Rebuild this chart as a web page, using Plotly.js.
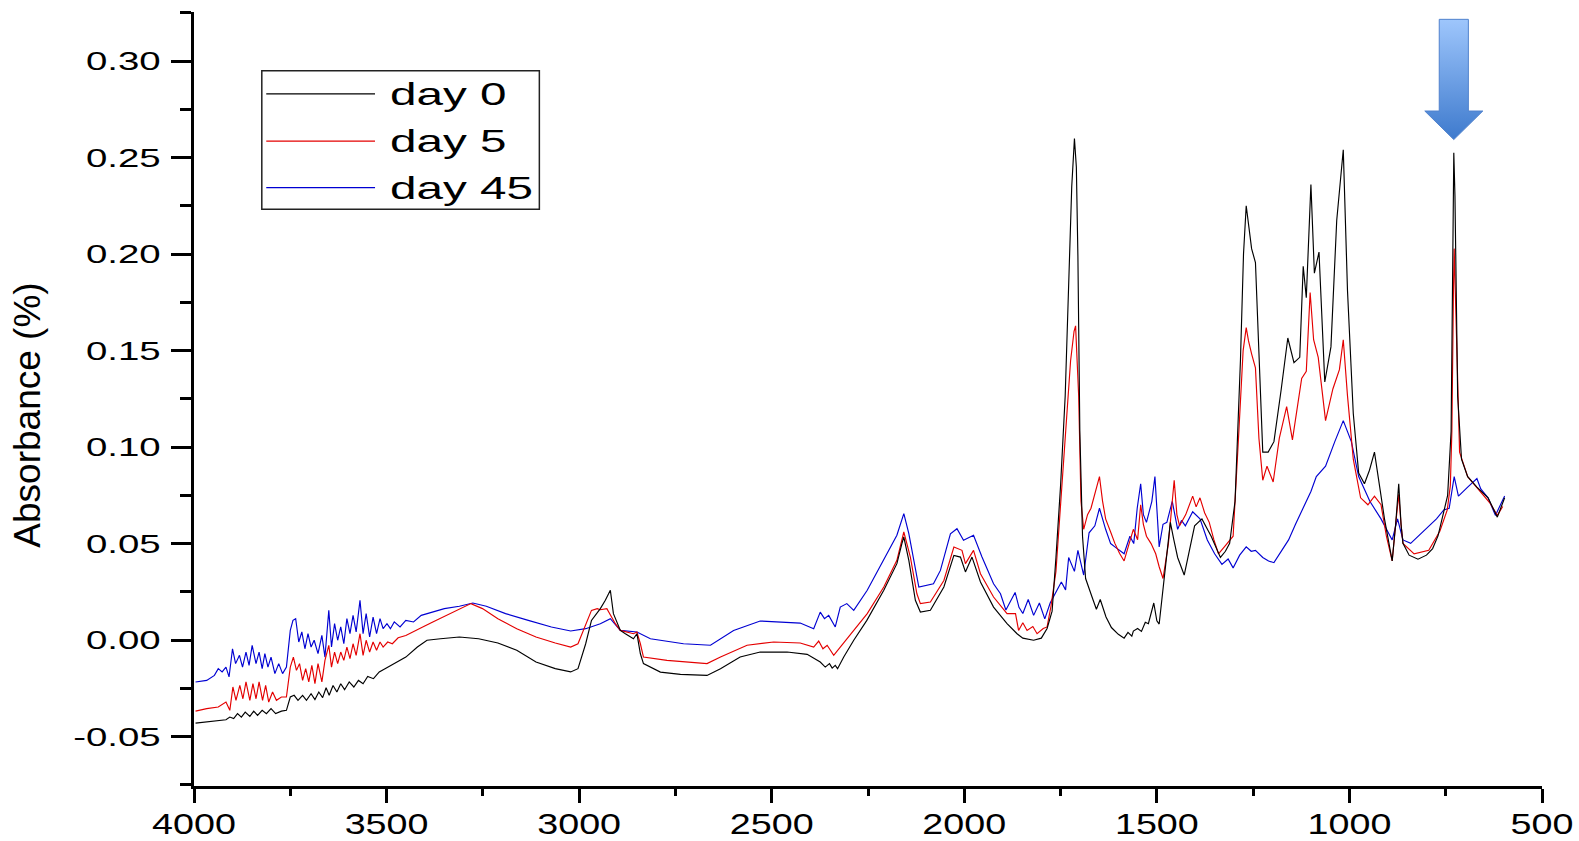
<!DOCTYPE html>
<html>
<head>
<meta charset="utf-8">
<script src="https://cdn.plot.ly/plotly-3.0.1.min.js"></script>
<style>
  html, body { margin: 0; padding: 0; background: #ffffff; }
  #chart { width: 1579px; height: 841px; }
</style>
</head>
<body>
<div id="chart"></div>
<script>
// ---------------- DATA ----------------
var seriesNames = ["day 0", "day 5", "day 45"];

var wnDay0 = [3996,3967,3947,3917,3907,3897,3887,3877,3867,3855,3845,3835,3823,3812,3800,3788,3773,3760,3750,3740,3730,3718,3708,3696,3686,3676,3666,3657,3649,3639,3629,3619,3609,3597,3585,3573,3561,3549,3534,3519,3504,3480,3450,3420,3395,3360,3311,3261,3211,3162,3112,3062,3022,3003,2983,2968,2945,2932,2919,2911,2893,2880,2859,2850,2841,2833,2789,2737,2668,2633,2582,2530,2460,2408,2374,2361,2350,2343,2335,2329,2313,2287,2253,2209,2175,2162,2157,2144,2127,2114,2088,2053,2027,2010,1997,1980,1958,1924,1889,1863,1848,1820,1800,1785,1772,1762,1750,1738,1729,1721,1714,1709,1705,1700,1693,1685,1666,1657,1647,1632,1618,1600,1585,1575,1565,1561,1550,1540,1530,1522,1508,1500,1494,1479,1465,1456,1446,1429,1417,1402,1383,1370,1359,1335,1322,1311,1297,1283,1275,1268,1261,1254,1244,1235,1225,1211,1196,1177,1160,1144,1129,1120,1112,1100,1091,1079,1064,1048,1033,1016,1005,990,976,961,948,935,922,909,889,880,872,866,861,845,822,800,784,770,755,745,736,731,729,726,722,719,709,693,669,640,616,597];
var absDay0 = [-0.0430,-0.0425,-0.0420,-0.0413,-0.0399,-0.0407,-0.0381,-0.0399,-0.0373,-0.0395,-0.0368,-0.0390,-0.0364,-0.0381,-0.0355,-0.0381,-0.0368,-0.0364,-0.0295,-0.0286,-0.0312,-0.0286,-0.0312,-0.0278,-0.0308,-0.0269,-0.0298,-0.0247,-0.0286,-0.0235,-0.0269,-0.0226,-0.0257,-0.0217,-0.0243,-0.0209,-0.0226,-0.0188,-0.0200,-0.0165,-0.0148,-0.0122,-0.0088,-0.0036,-0.0001,0.0007,0.0016,0.0007,-0.0015,-0.0053,-0.0114,-0.0148,-0.0165,-0.0148,-0.0019,0.0102,0.0163,0.0206,0.0258,0.0137,0.0050,0.0033,0.0007,0.0033,-0.0071,-0.0122,-0.0166,-0.0178,-0.0183,-0.0148,-0.0088,-0.0062,-0.0062,-0.0074,-0.0114,-0.0140,-0.0122,-0.0145,-0.0131,-0.0148,-0.0088,-0.0001,0.0102,0.0258,0.0396,0.0500,0.0534,0.0413,0.0206,0.0145,0.0154,0.0275,0.0439,0.0430,0.0353,0.0430,0.0301,0.0171,0.0085,0.0033,0.0010,-0.0001,0.0010,0.0060,0.0150,0.0428,0.0800,0.1265,0.1846,0.2350,0.2598,0.2450,0.1990,0.1083,0.0538,0.0319,0.0210,0.0160,0.0210,0.0120,0.0065,0.0030,0.0010,0.0040,0.0020,0.0047,0.0060,0.0045,0.0092,0.0085,0.0192,0.0100,0.0083,0.0356,0.0610,0.0520,0.0428,0.0337,0.0447,0.0592,0.0628,0.0580,0.0538,0.0428,0.0460,0.0501,0.0719,0.1447,0.2000,0.2250,0.2150,0.2028,0.1956,0.1447,0.0974,0.0974,0.1028,0.1301,0.1565,0.1437,0.1465,0.1937,0.1774,0.2360,0.1901,0.2010,0.1337,0.1519,0.2174,0.2540,0.1810,0.1174,0.0865,0.0810,0.0880,0.0974,0.0800,0.0628,0.0410,0.0600,0.0810,0.0600,0.0501,0.0440,0.0419,0.0440,0.0474,0.0540,0.0665,0.0750,0.1083,0.2000,0.2525,0.2300,0.1600,0.1265,0.0937,0.0847,0.0792,0.0737,0.0637,0.0737];

var wnDay5 = [3996,3967,3937,3917,3907,3899,3891,3881,3873,3865,3855,3847,3839,3831,3822,3814,3806,3796,3786,3773,3760,3750,3742,3734,3726,3718,3710,3702,3694,3686,3678,3668,3660,3650,3643,3635,3627,3619,3611,3603,3595,3587,3579,3569,3561,3553,3544,3535,3526,3517,3509,3497,3485,3470,3450,3430,3410,3380,3350,3311,3281,3251,3211,3162,3112,3062,3022,3003,2983,2968,2953,2945,2928,2906,2893,2859,2850,2841,2833,2772,2668,2633,2564,2495,2426,2391,2378,2367,2356,2339,2322,2287,2252,2209,2175,2157,2140,2123,2114,2088,2053,2027,2006,1997,1976,1958,1924,1889,1867,1859,1848,1837,1822,1811,1795,1785,1775,1762,1750,1738,1724,1715,1711,1703,1697,1690,1680,1671,1660,1649,1641,1633,1620,1609,1597,1585,1572,1561,1550,1542,1535,1527,1515,1503,1494,1484,1470,1455,1448,1441,1425,1407,1398,1388,1376,1364,1352,1340,1321,1302,1287,1276,1268,1262,1254,1244,1235,1225,1214,1198,1182,1163,1148,1136,1124,1112,1102,1093,1081,1062,1043,1026,1016,1005,990,971,952,935,918,904,889,880,872,866,861,832,794,765,746,738,734,730,728,725,721,714,693,659,635,616,602];
var absDay5 = [-0.0368,-0.0355,-0.0347,-0.0321,-0.0364,-0.0243,-0.0312,-0.0235,-0.0304,-0.0217,-0.0312,-0.0226,-0.0304,-0.0217,-0.0312,-0.0235,-0.0321,-0.0269,-0.0312,-0.0295,-0.0295,-0.0140,-0.0088,-0.0157,-0.0122,-0.0209,-0.0148,-0.0217,-0.0131,-0.0226,-0.0122,-0.0217,-0.0105,-0.0027,-0.0140,-0.0062,-0.0122,-0.0062,-0.0105,-0.0036,-0.0096,-0.0019,-0.0079,0.0033,-0.0079,-0.0001,-0.0062,-0.0010,-0.0053,-0.0010,-0.0036,-0.0010,-0.0019,0.0012,0.0024,0.0042,0.0064,0.0094,0.0123,0.0163,0.0189,0.0163,0.0111,0.0059,0.0016,-0.0015,-0.0036,-0.0019,0.0085,0.0154,0.0163,0.0157,0.0163,0.0085,0.0050,0.0033,0.0042,-0.0019,-0.0088,-0.0105,-0.0122,-0.0088,-0.0027,-0.0010,-0.0015,-0.0036,-0.0005,-0.0045,-0.0027,-0.0079,-0.0036,0.0050,0.0137,0.0275,0.0413,0.0560,0.0430,0.0240,0.0189,0.0197,0.0309,0.0482,0.0465,0.0396,0.0465,0.0344,0.0223,0.0137,0.0137,0.0050,0.0090,0.0050,0.0070,0.0033,0.0060,0.0068,0.0174,0.0356,0.0700,0.1083,0.1447,0.1600,0.1628,0.1265,0.0719,0.0574,0.0650,0.0683,0.0760,0.0847,0.0720,0.0628,0.0560,0.0501,0.0450,0.0410,0.0500,0.0574,0.0520,0.0701,0.0600,0.0538,0.0500,0.0447,0.0380,0.0319,0.0500,0.0828,0.0650,0.0592,0.0650,0.0746,0.0690,0.0737,0.0660,0.0610,0.0520,0.0447,0.0492,0.0538,0.1083,0.1500,0.1619,0.1550,0.1483,0.1410,0.1046,0.0828,0.0901,0.0819,0.1046,0.1210,0.1037,0.1200,0.1356,0.1392,0.1801,0.1556,0.1465,0.1137,0.1301,0.1401,0.1556,0.1265,0.0937,0.0737,0.0701,0.0746,0.0701,0.0538,0.0410,0.0600,0.0755,0.0600,0.0501,0.0447,0.0465,0.0565,0.0674,0.0800,0.1083,0.1800,0.2028,0.1800,0.1447,0.0974,0.0847,0.0765,0.0710,0.0646,0.0692];

var wnDay45 = [3996,3967,3947,3937,3927,3917,3909,3900,3892,3882,3874,3865,3857,3849,3839,3831,3823,3816,3808,3800,3790,3780,3770,3760,3750,3743,3736,3728,3720,3712,3704,3696,3688,3678,3668,3660,3650,3643,3635,3627,3619,3611,3603,3595,3587,3579,3569,3561,3553,3544,3535,3526,3517,3509,3499,3490,3480,3465,3450,3430,3410,3380,3350,3311,3276,3241,3191,3132,3072,3022,2983,2945,2919,2893,2850,2815,2729,2659,2599,2530,2460,2426,2391,2374,2363,2352,2335,2322,2305,2287,2252,2209,2175,2157,2144,2118,2080,2062,2036,2019,2002,1976,1954,1924,1906,1892,1880,1868,1858,1848,1834,1820,1805,1791,1777,1762,1748,1737,1729,1714,1705,1690,1676,1661,1649,1633,1620,1609,1585,1570,1560,1551,1542,1535,1527,1513,1505,1494,1484,1474,1460,1446,1436,1426,1407,1388,1369,1350,1331,1315,1302,1285,1268,1255,1244,1225,1210,1196,1178,1158,1140,1120,1100,1086,1062,1038,1016,1005,995,976,947,918,889,875,861,841,803,774,755,741,728,717,693,669,659,640,621,597];
var absDay45 = [-0.0217,-0.0209,-0.0183,-0.0148,-0.0165,-0.0140,-0.0191,-0.0045,-0.0122,-0.0079,-0.0140,-0.0062,-0.0131,-0.0027,-0.0122,-0.0062,-0.0148,-0.0070,-0.0140,-0.0088,-0.0174,-0.0122,-0.0174,-0.0140,0.0050,0.0102,0.0111,-0.0010,0.0042,-0.0045,0.0033,-0.0036,-0.0001,-0.0070,0.0024,-0.0088,0.0154,-0.0036,0.0085,-0.0001,0.0068,-0.0019,0.0111,0.0033,0.0128,0.0042,0.0206,0.0033,0.0137,0.0016,0.0119,0.0033,0.0111,0.0059,0.0085,0.0059,0.0094,0.0068,0.0102,0.0094,0.0128,0.0145,0.0163,0.0175,0.0192,0.0175,0.0137,0.0102,0.0068,0.0047,0.0059,0.0085,0.0111,0.0050,0.0042,0.0007,-0.0019,-0.0027,0.0050,0.0099,0.0094,0.0088,0.0059,0.0145,0.0111,0.0128,0.0068,0.0171,0.0189,0.0154,0.0258,0.0413,0.0543,0.0655,0.0551,0.0275,0.0292,0.0361,0.0551,0.0577,0.0517,0.0543,0.0430,0.0292,0.0240,0.0156,0.0200,0.0247,0.0170,0.0138,0.0210,0.0128,0.0192,0.0110,0.0192,0.0246,0.0301,0.0260,0.0428,0.0356,0.0465,0.0337,0.0556,0.0592,0.0683,0.0574,0.0500,0.0483,0.0447,0.0538,0.0500,0.0683,0.0810,0.0650,0.0610,0.0719,0.0847,0.0483,0.0600,0.0610,0.0719,0.0574,0.0620,0.0592,0.0665,0.0628,0.0519,0.0447,0.0392,0.0420,0.0374,0.0440,0.0483,0.0460,0.0465,0.0428,0.0410,0.0401,0.0460,0.0519,0.0600,0.0683,0.0770,0.0847,0.0901,0.1028,0.1137,0.1080,0.1028,0.0847,0.0719,0.0628,0.0519,0.0628,0.0519,0.0501,0.0574,0.0628,0.0674,0.0683,0.0847,0.0746,0.0792,0.0837,0.0783,0.0737,0.0646,0.0746];

var xTickVals = [4000, 3500, 3000, 2500, 2000, 1500, 1000, 500];
var xTickText = ["4000", "3500", "3000", "2500", "2000", "1500", "1000", "500"];
var xMinorVals = [3750, 3250, 2750, 2250, 1750, 1250, 750];
var yTickVals = [-0.05, 0.00, 0.05, 0.10, 0.15, 0.20, 0.25, 0.30];
var yTickText = ["-0.05", "0.00", "0.05", "0.10", "0.15", "0.20", "0.25", "0.30"];
var yMinorVals = [-0.075, -0.025, 0.025, 0.075, 0.125, 0.175, 0.225, 0.275, 0.325];
var yTitle = "Absorbance (%)";

// ---------------- STYLE ----------------
var colors = ["#000000", "rgb(228,0,0)", "rgb(0,0,210)"];
var FONT = "Liberation Sans, Arial, Helvetica, sans-serif";

var traces = [
  {x: wnDay0, y: absDay0, name: seriesNames[0]},
  {x: wnDay5, y: absDay5, name: seriesNames[1]},
  {x: wnDay45, y: absDay45, name: seriesNames[2]}
].map(function (t, i) {
  t.type = "scatter"; t.mode = "lines"; t.showlegend = false;
  t.line = {color: colors[i], width: 1.15};
  return t;
});
traces = [traces[2], traces[1], traces[0]];

// Arrow pointing to the day-0 peak near 730 cm-1 (located from the data)
var peakX = 0, peakY = -1;
for (var i = 0; i < wnDay0.length; i++) {
  if (wnDay0[i] > 700 && wnDay0[i] < 760 && absDay0[i] > peakY) { peakY = absDay0[i]; peakX = wnDay0[i]; }
}
var shaftHalf = 37.8, headHalf = 75.3;
var arrowTop = 0.3216, headBase = 0.2741, tipGap = 0.0068;
var arrowPath = "M" + (peakX + shaftHalf) + "," + arrowTop +
  " L" + (peakX - shaftHalf) + "," + arrowTop +
  " L" + (peakX - shaftHalf) + "," + headBase +
  " L" + (peakX - headHalf) + "," + headBase +
  " L" + peakX + "," + (peakY + tipGap) +
  " L" + (peakX + headHalf) + "," + headBase +
  " L" + (peakX + shaftHalf) + "," + headBase + " Z";

// Manual legend (box + line samples + labels) in paper coordinates
var legBox = {x0: 0.0503, x1: 0.2562, y0: 0.7451, y1: 0.9242};
var legRowsY = [0.8941, 0.8333, 0.7730];
var legLineX = [0.0536, 0.1343];
var legTextX = 0.1440;

var shapes = [
  {type: "rect", xref: "paper", yref: "paper", x0: legBox.x0, x1: legBox.x1, y0: legBox.y0, y1: legBox.y1,
   line: {color: "#222222", width: 1.5}, fillcolor: "rgba(255,255,255,0)", layer: "above"}
];
var annotations = [];
for (var k = 0; k < 3; k++) {
  shapes.push({type: "line", xref: "paper", yref: "paper", x0: legLineX[0], x1: legLineX[1],
    y0: legRowsY[k], y1: legRowsY[k], line: {color: colors[k], width: 1.2}, layer: "above"});
  annotations.push({xref: "paper", yref: "paper", x: legTextX, y: legRowsY[k], xanchor: "left", yanchor: "middle",
    align: "left", showarrow: false, text: seriesNames[k], font: {family: FONT, size: 32, color: "#000"}});
}
var arrowIndex = shapes.length;
shapes.push({type: "path", xref: "x", yref: "y", path: arrowPath, layer: "above",
  fillcolor: "rgb(110,160,230)", line: {color: "rgb(80,130,205)", width: 1}});

var layout = {
  width: 1579, height: 841,
  paper_bgcolor: "#ffffff", plot_bgcolor: "#ffffff",
  margin: {l: 194, r: 37, t: 12, b: 55, pad: 0},
  showlegend: false,
  font: {family: FONT, color: "#000"},
  xaxis: {
    range: [4000, 500], autorange: false,
    tickmode: "array", tickvals: xTickVals, ticktext: xTickText,
    ticks: "outside", ticklen: 14, tickwidth: 3, tickcolor: "#000",
    minor: {tickmode: "array", tickvals: xMinorVals, ticks: "outside", ticklen: 7, tickwidth: 3, tickcolor: "#000", showgrid: false},
    showline: true, linecolor: "#000", linewidth: 3, mirror: false,
    showgrid: false, zeroline: false,
    tickfont: {family: FONT, size: 29, color: "#000"}
  },
  yaxis: {
    range: [-0.0756, 0.3254], autorange: false,
    tickmode: "array", tickvals: yTickVals, ticktext: yTickText,
    ticks: "outside", ticklen: 20, tickwidth: 3, tickcolor: "#000",
    minor: {tickmode: "array", tickvals: yMinorVals, ticks: "outside", ticklen: 11, tickwidth: 3, tickcolor: "#000", showgrid: false},
    showline: true, linecolor: "#000", linewidth: 3, mirror: false,
    showgrid: false, zeroline: false,
    tickfont: {family: FONT, size: 26.5, color: "#000"},
    ticklabelstandoff: 5,
    title: {text: yTitle, font: {family: FONT, size: 37, color: "#000"}}
  },
  shapes: shapes,
  annotations: annotations
};

function stretchText(el, s) {
  var bb = el.getBBox();
  var anchor = el.getAttribute("text-anchor") || "start";
  var ax = anchor === "end" ? bb.x + bb.width : (anchor === "middle" ? bb.x + bb.width / 2 : bb.x);
  var ay = bb.y + bb.height / 2;
  var tr = el.getAttribute("transform") || "";
  var px = ax, py = ay;
  var list = el.transform && el.transform.baseVal;
  if (list && list.numberOfItems > 0) {
    var M = list.consolidate().matrix;
    px = M.a * ax + M.c * ay + M.e; py = M.b * ax + M.d * ay + M.f;
  }
  el.setAttribute("transform", "translate(" + px + "," + py + ") scale(" + s + ",1) translate(" + (-px) + "," + (-py) + ") " + tr);
}

function moveCenterTo(el, cxT, cyT) {
  var r = el.getBoundingClientRect(), g = gd.getBoundingClientRect();
  var cx = r.left + r.width / 2 - g.left, cy = r.top + r.height / 2 - g.top;
  var dx = (cxT === null) ? 0 : cxT - cx, dy = (cyT === null) ? 0 : cyT - cy;
  el.setAttribute("transform", "translate(" + dx + "," + dy + ") " + (el.getAttribute("transform") || ""));
}

var gd = document.getElementById("chart");
Plotly.newPlot(gd, traces, layout, {staticPlot: true, displayModeBar: false}).then(function () {
  // the reference image is horizontally stretched: widen horizontal texts accordingly
  gd.querySelectorAll(".ytick text").forEach(function (t) { stretchText(t, 1.45); });
  gd.querySelectorAll(".xtick text").forEach(function (t) { stretchText(t, 1.3); moveCenterTo(t, null, 824); });
  gd.querySelectorAll(".annotation-text").forEach(function (t) { stretchText(t, 1.49); });

  // place the y title like the reference (center at x=27, y=415)
  var yt = gd.querySelector(".ytitle");
  if (yt) moveCenterTo(yt, 27, 415);

  // vertical gradient for the arrow
  var ns = "http://www.w3.org/2000/svg";
  var defs = gd.querySelector("defs");
  var lg = document.createElementNS(ns, "linearGradient");
  lg.setAttribute("id", "arrowGrad");
  lg.setAttribute("x1", "0"); lg.setAttribute("y1", "0"); lg.setAttribute("x2", "0"); lg.setAttribute("y2", "1");
  [["0", "rgb(158,198,252)"], ["1", "rgb(62,122,205)"]].forEach(function (s) {
    var st = document.createElementNS(ns, "stop");
    st.setAttribute("offset", s[0]); st.setAttribute("stop-color", s[1]);
    lg.appendChild(st);
  });
  defs.appendChild(lg);
  var ap = gd.querySelector('.shapelayer path[data-index="' + arrowIndex + '"]');
  if (ap) { ap.style.fill = "url(#arrowGrad)"; ap.style.fillOpacity = "1"; }
});
</script>
</body>
</html>
